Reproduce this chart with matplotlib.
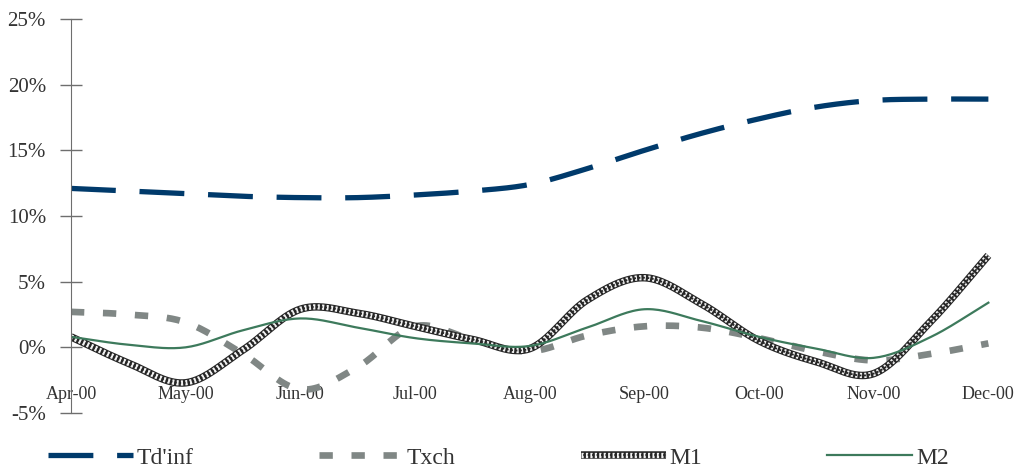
import numpy as np
import matplotlib.pyplot as plt
from matplotlib.ticker import FuncFormatter

# Taux semi-mensuels (%), avril à décembre 2000
mois = ['Apr-00', 'May-00', 'Jun-00', 'Jul-00', 'Aug-00', 'Sep-00', 'Oct-00', 'Nov-00', 'Dec-00']
td_inf = [12.1, 11.9, 11.7, 11.5, 11.4, 11.4, 11.6, 11.9, 12.4, 13.6, 15.0, 16.3, 17.4, 18.3, 18.8, 18.9, 18.9]
txch = [2.7, 2.5, 1.9, -0.5, -3.2, -1.5, 1.6, 0.6, -0.3, 0.9, 1.6, 1.5, 0.7, -0.3, -1.0, -0.5, 0.3]
m1 = [0.8, -1.2, -2.7, -0.2, 2.9, 2.6, 1.6, 0.6, -0.1, 3.6, 5.3, 3.3, 0.5, -1.1, -2.0, 2.0, 7.0]
m2 = [0.8, 0.2, 0.0, 1.3, 2.2, 1.5, 0.7, 0.3, 0.1, 1.5, 2.9, 2.0, 0.8, -0.1, -0.8, 0.8, 3.4]

x = np.arange(len(td_inf)) / 2.0


def lisser(x, y, n=20):
    # courbe de Catmull-Rom passant par les points
    x = np.asarray(x, float)
    y = np.asarray(y, float)
    px = np.concatenate([[2 * x[0] - x[1]], x, [2 * x[-1] - x[-2]]])
    py = np.concatenate([[2 * y[0] - y[1]], y, [2 * y[-1] - y[-2]]])
    t = np.linspace(0, 1, n, endpoint=False)
    xs, ys = [], []
    for i in range(1, len(px) - 2):
        for p, out in ((px, xs), (py, ys)):
            p0, p1, p2, p3 = p[i - 1], p[i], p[i + 1], p[i + 2]
            out.extend(0.5 * (2 * p1 + (-p0 + p2) * t
                              + (2 * p0 - 5 * p1 + 4 * p2 - p3) * t ** 2
                              + (-p0 + 3 * p1 - 3 * p2 + p3) * t ** 3))
    xs.append(x[-1])
    ys.append(y[-1])
    return np.array(xs), np.array(ys)


plt.rcParams['font.family'] = ['Liberation Serif', 'DejaVu Serif']

fig = plt.figure(figsize=(10.21, 4.69), dpi=100)
ax = fig.add_axes([0.0695, 0.1194, 0.93, 0.8401])

bleu = '#003a6b'
gris = '#808785'
vert = '#3d7a5c'

l1, = ax.plot(*lisser(x, td_inf), color=bleu, lw=3.8, dashes=(8.5, 4.5),
              solid_capstyle='butt', dash_capstyle='butt')
l2, = ax.plot(*lisser(x, txch), color=gris, lw=4.8, dashes=(2.0, 2.8),
              dash_capstyle='butt')
# M1 : trait épais à motif damier
xm, ym = lisser(x, m1)
l3a, = ax.plot(xm, ym, color='#262626', lw=5.4, solid_capstyle='butt')
l3b, = ax.plot(xm, ym, color='#f2f2f2', lw=3.8, dashes=(0.42, 0.42),
               dash_capstyle='butt')
l3c, = ax.plot(xm, ym, color='#262626', lw=1.3, dash_capstyle='butt',
               linestyle=(1.23, (1.23, 1.23)))
l4, = ax.plot(*lisser(x, m2), color=vert, lw=1.6)

ax.set_ylim(-5, 25)
ax.set_yticks(np.arange(-5, 26, 5))
ax.yaxis.set_major_formatter(FuncFormatter(lambda v, p: f'{v:.0f}%'))
ax.set_xlim(0, 8.28)
ax.set_xticks(np.arange(len(mois)))
ax.set_xticklabels(mois)

for s in ('top', 'right'):
    ax.spines[s].set_visible(False)
ax.spines['bottom'].set_position(('data', -2.6))
ax.spines['bottom'].set_color('none')
ax.spines['left'].set_color('#6e6e6e')
ax.tick_params(axis='y', direction='inout', length=16, width=1, color='#6e6e6e',
               pad=10, labelsize=15, labelcolor='#333333')
ax.tick_params(axis='x', length=0, pad=3, labelsize=13, labelcolor='#333333')

fig.legend([l1, l2, (l3a, l3b, l3c), l4], ["Td'inf", 'Txch', 'M1', 'M2'],
           loc='center', bbox_to_anchor=(0.488, 0.024), ncol=4, frameon=False,
           fontsize=17, handlelength=3.6, columnspacing=5.3, handletextpad=0.15,
           labelcolor='#333333')

fig.savefig('out.png', dpi=100)
